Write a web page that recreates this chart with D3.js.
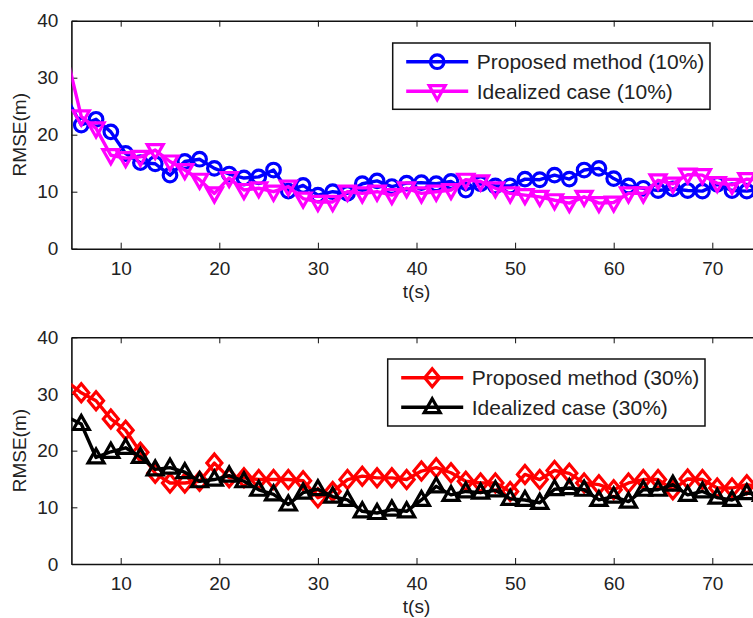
<!DOCTYPE html>
<html>
<head>
<meta charset="utf-8">
<script src="https://cdn.jsdelivr.net/npm/d3@7"></script>
<style>
  body { margin: 0; background: #fff; }
  text { font-family: "Liberation Sans", Arial, sans-serif; fill: #222; }
</style>
</head>
<body>
<script>
const width = 753;
const height = 618;

// sample times (s)
const times = [4.5, 6, 7.5, 9, 10.5, 12, 13.5, 15, 16.5, 18, 19.5, 21, 22.5, 24, 25.5, 27,
  28.5, 30, 31.5, 33, 34.5, 36, 37.5, 39, 40.5, 42, 43.5, 45, 46.5, 48, 49.5, 51,
  52.5, 54, 55.5, 57, 58.5, 60, 61.5, 63, 64.5, 66, 67.5, 69, 70.5, 72, 73.5, 75];

const proposed10 = [26.5, 21.7, 22.7, 20.5, 16.7, 15.1, 14.9, 12.9, 15.3, 15.7, 14.1, 13.1, 12.4, 12.6, 13.8, 10.1,
  11.1, 9.4, 10.0, 9.7, 11.4, 11.9, 10.9, 11.5, 11.6, 11.4, 11.8, 10.3, 11.4, 11.0, 11.0, 12.2,
  12.1, 12.9, 12.2, 13.8, 14.1, 12.3, 11.0, 10.6, 10.2, 10.5, 10.2, 10.1, 11.3, 10.2, 10.1, 10.5];
const ideal10 = [34.0, 23.2, 21.1, 16.4, 15.9, 16.1, 17.3, 15.3, 13.8, 12.1, 9.7, 12.4, 10.3, 10.6, 10.0, 10.9,
  8.8, 8.2, 8.2, 10.0, 9.7, 10.0, 9.4, 10.6, 9.7, 10.0, 10.3, 12.1, 11.8, 10.6, 9.7, 9.4,
  9.1, 8.5, 8.0, 9.1, 8.0, 8.1, 9.7, 9.7, 12.0, 11.4, 13.0, 12.9, 11.5, 11.2, 12.2, 12.0];

const proposed30 = [32.3, 30.2, 28.8, 25.6, 23.6, 19.7, 16.0, 14.3, 14.3, 14.6, 17.8, 15.2, 15.2, 14.9, 14.9, 14.9,
  14.7, 11.7, 12.8, 14.9, 15.5, 15.2, 15.2, 14.9, 16.4, 17.0, 16.1, 14.6, 14.3, 14.3, 12.8, 15.8,
  14.9, 16.5, 16.0, 14.3, 14.0, 13.1, 14.3, 14.9, 14.9, 13.1, 15.0, 14.9, 13.4, 13.4, 14.0, 13.5];
const ideal30 = [26.0, 24.7, 18.8, 19.8, 20.5, 18.9, 16.7, 17.0, 16.2, 14.6, 14.9, 15.6, 14.6, 13.1, 12.3, 10.5,
  12.6, 13.2, 11.9, 11.3, 9.3, 9.0, 9.6, 9.3, 11.3, 13.7, 12.2, 12.8, 12.6, 13.0, 11.5, 11.3,
  10.8, 13.2, 13.4, 13.1, 11.3, 11.9, 11.0, 13.1, 13.1, 14.0, 12.2, 12.8, 11.7, 11.3, 12.5, 12.2];

const xTicks = [10, 20, 30, 40, 50, 60, 70];
const yTicks = [0, 10, 20, 30, 40];

const svg = d3.select("body").append("svg")
  .attr("width", width)
  .attr("height", height);

const markers = {
  circle: (g) => g.append("circle").attr("r", 6.8),
  down: (g) => g.append("path").attr("d", "M-8,-5.5L8,-5.5L0,8.5Z"),
  up: (g) => g.append("path").attr("d", "M-8,5.5L8,5.5L0,-8.5Z"),
  diamond: (g) => g.append("path").attr("d", "M0,-9L7.5,0L0,9L-7.5,0Z"),
};

function panel(id, top, bottom, series, legend) {
  const x = d3.scaleLinear().domain([5, 75]).range([71.4, 761.6]);
  const y = d3.scaleLinear().domain([0, 40]).range([bottom, top]);

  svg.append("clipPath").attr("id", id)
    .append("rect")
    .attr("x", x(5)).attr("y", top)
    .attr("width", x(75) - x(5)).attr("height", bottom - top);

  // box + ticks (inward, MATLAB style)
  const xb = svg.append("g").attr("transform", `translate(0,${bottom})`)
    .call(d3.axisBottom(x).tickValues(xTicks).tickSizeInner(-6).tickSizeOuter(0).tickPadding(13));
  const xt = svg.append("g").attr("transform", `translate(0,${top})`)
    .call(d3.axisTop(x).tickValues(xTicks).tickSizeInner(-6).tickSizeOuter(0).tickFormat(""));
  const yl = svg.append("g").attr("transform", `translate(${x(5)},0)`)
    .call(d3.axisLeft(y).tickValues(yTicks).tickSizeInner(-6).tickSizeOuter(0).tickPadding(13));
  [xb, xt, yl].forEach((a) => {
    a.select(".domain").attr("stroke", "#111").attr("stroke-width", 1.6);
    a.selectAll(".tick line").attr("stroke", "#111").attr("stroke-width", 1);
    a.selectAll(".tick text").attr("font-size", 19).attr("fill", "#222")
      .attr("font-family", "Liberation Sans, Arial, sans-serif");
  });

  svg.append("text")
    .attr("x", x(40)).attr("y", bottom + 49)
    .attr("text-anchor", "middle").attr("font-size", 19)
    .text("t(s)");
  svg.append("text")
    .attr("transform", `translate(26,${(top + bottom) / 2}) rotate(-90)`)
    .attr("text-anchor", "middle").attr("font-size", 19)
    .text("RMSE(m)");

  const plot = svg.append("g").attr("clip-path", `url(#${id})`);
  const line = d3.line().x((d) => x(d[0])).y((d) => y(d[1]));

  series.forEach((s) => {
    const pts = times.map((t, i) => [t, s.values[i]]);
    plot.append("path")
      .datum(pts)
      .attr("fill", "none")
      .attr("stroke", s.color)
      .attr("stroke-width", 3.4)
      .attr("stroke-linejoin", "round")
      .attr("d", line);
    // markers only for samples inside the x range (MATLAB drops the rest)
    plot.selectAll(null)
      .data(pts.filter((d) => d[0] >= 5 && d[0] <= 75))
      .enter()
      .append("g")
      .attr("transform", (d) => `translate(${x(d[0])},${y(d[1])})`)
      .each(function () { markers[s.marker](d3.select(this)); })
      .selectAll("*")
      .attr("fill", "none")
      .attr("stroke", s.color)
      .attr("stroke-width", 3.2);
  });

  // legend
  const lg = svg.append("g").attr("transform", `translate(${legend.x},${legend.y})`);
  lg.append("rect")
    .attr("width", legend.w).attr("height", legend.h)
    .attr("fill", "#fff").attr("stroke", "#111").attr("stroke-width", 1.5);
  series.forEach((s, i) => {
    const ly = 18.7 + i * 29.5;
    lg.append("line")
      .attr("x1", 13.5).attr("x2", 75.5).attr("y1", ly).attr("y2", ly)
      .attr("stroke", s.color).attr("stroke-width", 3.4);
    const m = lg.append("g").attr("transform", `translate(44.5,${ly})`);
    markers[s.marker](m).attr("fill", "none").attr("stroke", s.color).attr("stroke-width", 3.2);
    lg.append("text")
      .attr("x", 84).attr("y", ly).attr("dy", "0.35em")
      .attr("font-size", 21)
      .text(s.name);
  });
}

panel("clipTop", 20.7, 248.7, [
  { name: "Proposed method (10%)", values: proposed10, color: "#0000ff", marker: "circle" },
  { name: "Idealized case (10%)", values: ideal10, color: "#ff00ff", marker: "down" },
], { x: 392.7, y: 43, w: 317.3, h: 66.3 });

panel("clipBottom", 337.3, 564, [
  { name: "Proposed method (30%)", values: proposed30, color: "#ff0000", marker: "diamond" },
  { name: "Idealized case (30%)", values: ideal30, color: "#000000", marker: "up" },
], { x: 387.7, y: 359, w: 317.3, h: 67 });
</script>
</body>
</html>
